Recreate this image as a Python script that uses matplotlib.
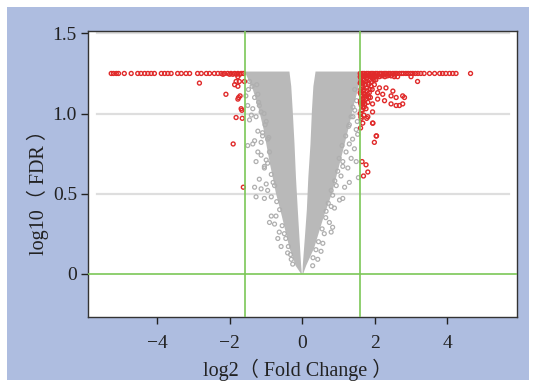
import matplotlib
matplotlib.use("Agg")
import matplotlib.pyplot as plt
from matplotlib.patches import Rectangle

# --- data ---
# solid grey core of the volcano (outer edge top->bottom, inner edge top->bottom)
core_out_y = [1.262, 1.22, 1.15, 1.05, 0.90, 0.70, 0.50, 0.36, 0.16, 0.05, 0.0]
core_left_out = [-1.58, -1.50, -1.36, -1.22, -1.06, -0.90, -0.72, -0.56, -0.35, -0.18, -0.03]
core_right_out = [1.585, 1.585, 1.54, 1.42, 1.27, 1.05, 0.82, 0.60, 0.33, 0.11, 0.03]
core_in_y = [1.262, 1.17, 1.02, 0.81, 0.60, 0.40, 0.21, 0.06, 0.0]
core_left_in = [-0.35, -0.30, -0.26, -0.21, -0.17, -0.12, -0.07, -0.03, -0.01]
core_right_in = [0.37, 0.31, 0.27, 0.23, 0.17, 0.13, 0.07, 0.02, 0.01]

# scattered grey points outside the core
grey_x = [-1.55, -1.31, -1.22, -1.50, -1.36, -1.18, -1.40, -1.27, -1.45, -1.13,
          -1.22, -1.09, -1.31, -1.36, -1.50, -1.13, -0.95, -1.22, -1.13, -1.27,
          -0.99, -0.95, -1.04, -1.09, -0.99, -1.04, -1.18, -1.31, -1.13, -0.99,
          -0.95, -1.27, -1.04, -0.85, -0.76, -0.85, -0.72, -0.90, -0.76, -0.63,
          -0.67, -0.49, -0.58, -0.40, -0.30, -0.26,
          -1.45, -1.38, -1.48, -1.25, -1.20, -1.05, -1.02, -0.92, -0.90, -0.85,
          -0.80, -0.70, -0.62, -0.55, -0.45, -0.38, -0.32,
          1.49, 1.53, 1.39, 1.30, 1.44, 1.21, 1.35, 1.12, 1.49, 1.26,
          1.12, 1.07, 1.30, 0.94, 1.17, 0.84, 1.03, 1.12, 0.80, 0.89,
          0.66, 0.75, 0.84, 0.80, 0.61, 0.57, 0.52, 0.43, 0.29,
          1.40, 1.52, 1.45, 1.30, 1.55,
          1.45, 1.50, 1.40, 1.35, 1.28, 1.20, 1.10, 1.02, 0.98, 0.90,
          0.80, 0.72, 0.65, 0.55, 0.45, 0.38, 0.30]
grey_y = [1.11, 1.10, 1.12, 1.05, 1.03, 1.05, 0.99, 0.98, 0.96, 1.01,
          0.89, 0.88, 0.83, 0.81, 0.80, 0.82, 0.84, 0.76, 0.74, 0.70,
          0.71, 0.69, 0.66, 0.86, 0.95, 0.67, 0.59, 0.54, 0.53, 0.56,
          0.52, 0.48, 0.47, 0.48, 0.55, 0.36, 0.36, 0.32, 0.31, 0.26,
          0.22, 0.25, 0.17, 0.13, 0.09, 0.06,
          1.20, 1.17, 1.15, 1.18, 1.07, 1.00, 0.93, 0.85, 0.76, 0.62,
          0.57, 0.45, 0.40, 0.30, 0.22, 0.17, 0.12,
          0.90, 0.87, 0.84, 0.81, 0.78, 0.76, 0.72, 0.70, 0.70, 0.66,
          0.67, 0.61, 0.57, 0.55, 0.54, 0.49, 0.46, 0.47, 0.42, 0.41,
          0.39, 0.32, 0.29, 0.26, 0.25, 0.19, 0.14, 0.09, 0.05,
          0.98, 0.95, 1.02, 0.93, 0.60,
          1.15, 1.08, 1.04, 0.98, 0.92, 0.86, 0.80, 0.72, 0.64, 0.58,
          0.52, 0.44, 0.35, 0.28, 0.20, 0.15, 0.10]

# red: down-regulated (left of -1.585)
red_left_x = [-5.26, -5.20, -5.12, -5.06, -4.90, -4.71, -4.53, -4.44, -4.34, -4.25,
              -4.16, -4.07, -3.88, -3.79, -3.70, -3.61, -3.43, -3.33, -3.20, -3.10,
              -2.88, -2.78, -2.64, -2.55, -2.42, -2.32, -2.23, -2.14, -2.05, -1.96,
              -1.86, -1.77, -1.68, -1.62, -2.18, -2.00, -1.91, -1.81, -1.72,
              -2.83, -2.10, -1.82, -1.86, -1.77, -1.73, -1.59, -1.77, -1.75, -1.77,
              -1.71, -1.66, -1.82, -1.65, -1.90, -1.62, -1.68]
red_left_y = [1.25, 1.25, 1.25, 1.25, 1.25, 1.25, 1.25, 1.25, 1.25, 1.25,
              1.25, 1.25, 1.25, 1.25, 1.25, 1.25, 1.25, 1.25, 1.25, 1.25,
              1.25, 1.25, 1.25, 1.25, 1.25, 1.25, 1.25, 1.25, 1.25, 1.25,
              1.25, 1.25, 1.25, 1.25, 1.245, 1.245, 1.245, 1.245, 1.245,
              1.19, 1.12, 1.20, 1.18, 1.17, 1.20, 1.20, 1.23, 1.10, 1.09,
              1.11, 1.02, 0.975, 0.97, 0.81, 0.54, 1.03]

# red: up-regulated (right of 1.585)
red_right_x = [1.60, 1.66, 1.71, 1.78, 1.83, 1.90, 1.95, 2.02, 2.07, 2.14,
               2.19, 2.26, 2.31, 2.38, 2.43, 2.50, 2.56, 2.61, 2.68, 2.74,
               2.79, 2.86, 2.92, 2.99, 3.05, 3.12, 3.19, 3.27, 3.36,
               1.63, 1.74, 1.85, 1.97, 2.10, 2.25, 2.40,
               3.51, 3.65, 3.79, 3.87, 3.96, 4.06, 4.15, 4.24, 4.64,
               1.62, 1.70, 1.78, 1.86, 1.95, 2.03, 1.65, 1.74, 1.82, 1.90,
               1.99, 1.62, 1.69, 1.77, 1.85, 1.93, 1.64, 1.72, 1.80, 1.88,
               1.61, 1.68, 1.76, 1.63, 1.71,
               2.54, 2.63, 3.00, 3.18, 2.31, 2.50, 2.13, 2.08, 2.22, 2.45,
               2.59, 2.77, 2.82, 2.08, 2.27, 2.45, 2.59, 2.68, 2.77, 1.81,
               1.94, 1.72, 1.67, 1.76, 1.63, 1.94, 1.81, 1.63, 1.67, 1.61,
               1.94, 2.04, 1.99, 1.78, 1.95, 2.05, 1.65, 1.76, 1.81, 1.69,
               1.60, 1.67, 1.73, 1.80, 1.87, 1.93, 2.00, 2.06, 2.13, 2.20,
               2.28, 2.35, 2.45, 2.55, 1.60, 1.66, 1.72, 1.60, 1.66, 1.60, 1.70,
               1.62, 1.68, 1.75, 1.83, 1.91, 1.98, 1.64, 1.71, 1.79, 1.87,
               1.62, 1.75, 1.83, 1.67, 1.73, 1.61, 1.66, 1.62, 1.70]
red_right_y = [1.25, 1.25, 1.25, 1.25, 1.25, 1.25, 1.25, 1.25, 1.25, 1.25,
               1.25, 1.25, 1.25, 1.25, 1.25, 1.25, 1.25, 1.25, 1.25, 1.25,
               1.25, 1.25, 1.25, 1.25, 1.25, 1.25, 1.25, 1.25, 1.25,
               1.24, 1.24, 1.24, 1.24, 1.24, 1.24, 1.24,
               1.25, 1.25, 1.25, 1.25, 1.25, 1.25, 1.25, 1.25, 1.25,
               1.22, 1.23, 1.22, 1.21, 1.22, 1.21, 1.19, 1.18, 1.19, 1.17,
               1.18, 1.15, 1.14, 1.16, 1.13, 1.15, 1.11, 1.10, 1.12, 1.10,
               1.08, 1.07, 1.09, 1.05, 1.04,
               1.23, 1.23, 1.23, 1.20, 1.16, 1.14, 1.16, 1.13, 1.12, 1.11,
               1.10, 1.11, 1.10, 1.09, 1.08, 1.06, 1.05, 1.05, 1.06, 1.07,
               1.06, 1.06, 1.04, 1.03, 1.02, 1.01, 0.98, 0.97, 0.94, 0.91,
               0.94, 0.86, 0.82, 0.97, 0.94, 0.86, 0.70, 0.68, 0.635, 0.61,
               1.23, 1.235, 1.23, 1.235, 1.23, 1.235, 1.23, 1.235, 1.23, 1.235,
               1.23, 1.235, 1.235, 1.24, 1.00, 1.06, 1.12, 1.13, 1.17, 1.19, 1.21,
               1.20, 1.19, 1.20, 1.18, 1.20, 1.21, 1.16, 1.15, 1.14, 1.15,
               1.12, 1.11, 1.10, 1.09, 1.06, 1.065, 1.02, 0.98, 0.99]

fc_cut = 1.585
x_ticks = [-4, -2, 0, 2, 4]
y_ticks = [0, 0.5, 1.0, 1.5]
y_tick_labels = ["0", "0.5", "1.0", "1.5"]

grey_fill = "#b9b9b9"
grey = "#afafaf"
red = "#e02a2a"
green = "#7cc757"
serif = ["Liberation Serif", "Noto Sans CJK SC"]

fig = plt.figure(figsize=(5.36, 3.87), dpi=100, facecolor="white")
# light blue panel behind the chart
fig.patches.append(Rectangle((7 / 536, 7 / 387), 522 / 536, 373 / 387,
                             transform=fig.transFigure, facecolor="#aebde0",
                             edgecolor="none", zorder=-10))

ax = fig.add_axes([88 / 536, 70 / 387, 429 / 536, 286 / 387])
ax.set_facecolor("white")

# grid lines (inset from the frame)
for yv in [0.5, 1.0, 1.5]:
    ax.plot([-5.64, 5.71], [yv, yv], color="#dedede", lw=1.6, zorder=1)

# dense grey core
ax.fill(core_left_out + core_left_in[::-1], core_out_y + core_in_y[::-1],
        color=grey_fill, lw=0, zorder=2)
ax.fill(core_right_out + core_right_in[::-1], core_out_y + core_in_y[::-1],
        color=grey_fill, lw=0, zorder=2)
ax.scatter(grey_x, grey_y, s=8, facecolors="none", edgecolors=grey, linewidths=0.9, zorder=3)

ax.scatter(red_left_x, red_left_y, s=8, facecolors="none", edgecolors=red, linewidths=1.0, zorder=4)
ax.scatter(red_right_x, red_right_y, s=8, facecolors="none", edgecolors=red, linewidths=1.0, zorder=4)

ax.axvline(-fc_cut, color=green, lw=1.2, zorder=5)
ax.axvline(fc_cut, color=green, lw=1.2, zorder=5)
ax.axhline(0, color=green, lw=1.2, zorder=5)

ax.set_xlim(-5.9, 5.92)
ax.set_ylim(-0.27, 1.515)
ax.set_xticks(x_ticks)
ax.set_yticks(y_ticks)
ax.set_yticklabels(y_tick_labels)
ax.tick_params(direction="out", length=5, width=1, color="#222222",
               labelsize=14, labelcolor="#222222")
ax.tick_params(axis="x", pad=8)
ax.tick_params(axis="y", pad=3)
for lab in ax.get_xticklabels() + ax.get_yticklabels():
    lab.set_family(serif)
for sp in ax.spines.values():
    sp.set_color("#333333")
    sp.set_linewidth(1)

fig.text(298 / 536, 1 - 370 / 387, "log2（ Fold Change ）", ha="center", va="center",
         fontsize=14.5, family=serif, color="#222222")
fig.text(38 / 536, 1 - 187 / 387, "log10（ FDR ）", ha="center", va="center",
         rotation=90, fontsize=14.5, family=serif, color="#222222")

fig.savefig("out.png", dpi=100)
